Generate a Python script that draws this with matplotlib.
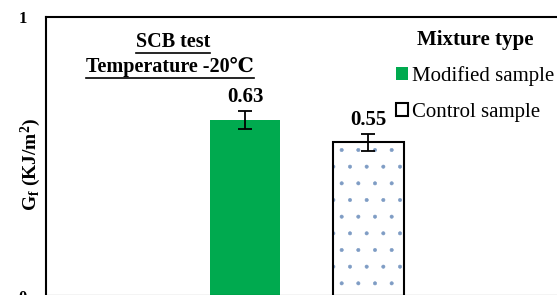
import matplotlib
matplotlib.use('Agg')
import matplotlib.pyplot as plt
from matplotlib.patches import Patch
from matplotlib.lines import Line2D

plt.rcParams['font.family'] = ['Liberation Serif', 'DejaVu Serif']
plt.rcParams['mathtext.fontset'] = 'custom'
plt.rcParams['mathtext.rm'] = 'Liberation Serif'
plt.rcParams['mathtext.bf'] = 'Liberation Serif:bold'
plt.rcParams['mathtext.it'] = 'Liberation Serif:italic'
plt.rcParams['hatch.linewidth'] = 0.4

# dados
amostras = ['Modified sample', 'Control sample']
gf = [0.63, 0.55]
erro = [0.032, 0.03]
cor_mod = '#00AA4F'
cor_pontos = '#7E9CC4'

fig = plt.figure(figsize=(5.57, 2.95), dpi=100)
ax = fig.add_axes([46 / 557, -0.003, 560 / 557, 0.9454])

x = [0, 1]
w = 0.57
ax.bar(x[0], gf[0], w, color=cor_mod, edgecolor='none')
ax.bar(x[1], gf[1], w, color='white', edgecolor=cor_pontos, hatch='.', linewidth=0)
ax.bar(x[1], gf[1], w, color='none', edgecolor='black', linewidth=1.5)
ax.errorbar(x, gf, yerr=erro, fmt='none', ecolor='black', elinewidth=1.3,
            capsize=5, capthick=1.3)

for xi, v, e in zip(x, gf, erro):
    ax.text(xi, v + e + 0.015, f'{v:.2f}', ha='center', va='bottom',
            fontsize=15, fontweight='bold')

ax.set_xlim(-1.62, 2.93)
ax.set_ylim(0, 1)
ax.set_yticks([0, 1])
ax.set_yticklabels(['0', '1'], fontsize=12, fontweight='bold')
ax.tick_params(axis='y', length=0, pad=14)
ax.set_xticks([])
for s in ax.spines.values():
    s.set_linewidth(1.5)
ax.set_ylabel(r'$\mathbf{G_f\ (KJ/m^2)}$', fontsize=14, labelpad=4)
ax.yaxis.set_label_coords(-0.005, 0.473)

# titulo sublinhado
t1 = ax.text(0.227, 0.91, 'SCB test', transform=ax.transAxes, ha='center',
             va='center', fontsize=14.5, fontweight='bold')
t2 = ax.text(0.222, 0.82, 'Temperature -20℃', transform=ax.transAxes,
             ha='center', va='center', fontsize=14.5, fontweight='bold')

handles = [Patch(facecolor=cor_mod, edgecolor='none'),
           Patch(facecolor='white', edgecolor='black', linewidth=1.5)]
leg = ax.legend(handles, amostras, title='Mixture type', loc='upper left',
                bbox_to_anchor=(0.61, 0.985), frameon=False, fontsize=15,
                handlelength=0.6, handleheight=0.6, handletextpad=0.15,
                labelspacing=0.8, borderaxespad=0)
leg.get_title().set_fontweight('bold')
leg.get_title().set_fontsize(15)

fig.canvas.draw()
r = fig.canvas.get_renderer()
for t in (t1, t2):
    bb = t.get_window_extent(r)
    y = bb.y0 - 1
    fig.add_artist(Line2D([bb.x0 / 557, bb.x1 / 557], [y / 295, y / 295],
                          color='black', linewidth=1.2))

plt.savefig('out.png', dpi=100)
plt.close()
